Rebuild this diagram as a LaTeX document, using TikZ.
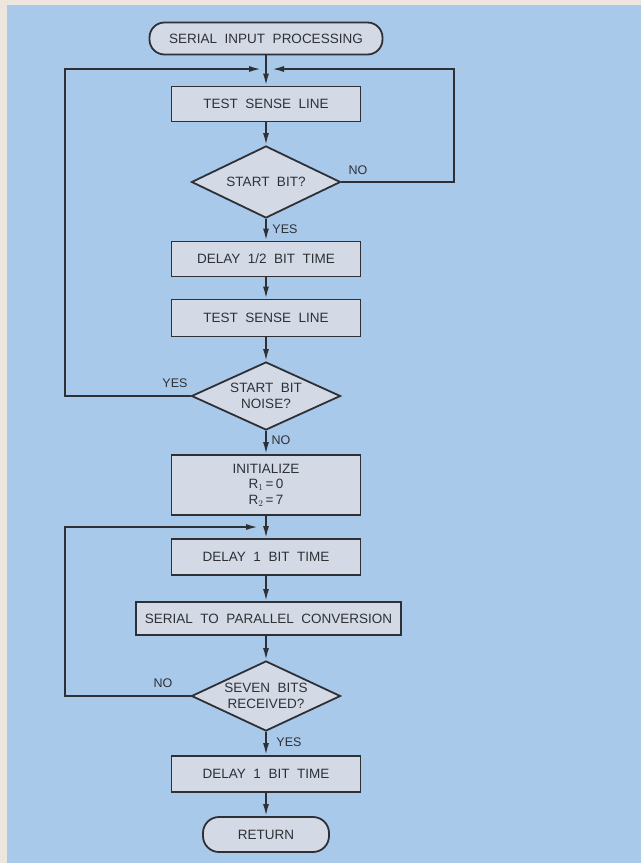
\documentclass[tikz,border=0pt]{standalone}
\usepackage{fontspec}
\setmainfont{Liberation Sans}
\usetikzlibrary{shapes.geometric,arrows.meta}
\definecolor{bg}{HTML}{A9C9EB}
\definecolor{margin}{HTML}{EDE6DC}
\definecolor{boxfill}{HTML}{D3DAE6}
\definecolor{ink}{HTML}{2E3036}
\begin{document}
\begin{tikzpicture}[x=1pt,y=-1pt,
  every node/.style={text=ink, font=\fontsize{13.5}{15.5}\selectfont},
  proc/.style={draw=ink, line width=1.8pt, fill=boxfill, rectangle, inner sep=0pt, minimum height=35pt, minimum width=189pt, align=center},
  term/.style={draw=ink, line width=1.8pt, fill=boxfill, rectangle, rounded corners=15pt, inner sep=0pt, minimum height=32pt, align=center},
  decision/.style={draw=ink, line width=1.8pt, fill=boxfill, diamond, aspect=2.1, inner sep=0pt, minimum width=149pt, minimum height=70pt, align=center},
  lbl/.style={font=\fontsize{12.5}{14}\selectfont, inner sep=0pt},
  arr/.style={draw=ink, line width=1.8pt, -{Latex[length=12pt,width=6pt]}}
]
\useasboundingbox (0,0) rectangle (641,863);
\fill[margin] (0,0) rectangle (641,863);
\fill[bg] (7,5) rectangle (641,863);

\node[term, minimum width=233pt] (start) at (266,38.5) {SERIAL\ \ INPUT\ \ PROCESSING};
\node[proc] (tsl1) at (266,104) {TEST\ \ SENSE\ \ LINE};
\node[decision, minimum height=72pt] (d1) at (266,182) {START\ \ BIT?};
\node[proc] (dh) at (266,259) {DELAY\ \ 1/2\ \ BIT\ \ TIME};
\node[proc, minimum height=37pt] (tsl2) at (266,318) {TEST\ \ SENSE\ \ LINE};
\node[decision, minimum height=68pt] (d2) at (266,396) {START\ \ BIT\\NOISE?};
\node[proc, minimum height=60pt] (init) at (266,485) {INITIALIZE\\R$_1$\,=\,0\\R$_2$\,=\,7};
\node[proc, minimum height=36pt] (dl1) at (266,557) {DELAY\ \ 1\ \ BIT\ \ TIME};
\node[proc, minimum width=265pt, minimum height=33pt] (s2p) at (268.5,618.5) {SERIAL\ \ TO\ \ PARALLEL\ \ CONVERSION};
\node[decision, minimum height=70pt] (d3) at (266,696) {SEVEN\ \ BITS\\RECEIVED?};
\node[proc, minimum height=36pt] (dl2) at (266,774) {DELAY\ \ 1\ \ BIT\ \ TIME};
\node[term, minimum width=126pt, minimum height=35pt, rounded corners=16pt] (ret) at (266,834.5) {RETURN};

\node[lbl] (no1) at (358,170) {NO};
\node[lbl] (yes1) at (285,229) {YES};
\node[lbl] (yes2) at (175,383) {YES};
\node[lbl] (no2) at (281,440) {NO};
\node[lbl] (no3) at (163,683) {NO};
\node[lbl] (yes3) at (289,742) {YES};

\coordinate (lc) at (65,69);
\coordinate (rc) at (454,69);
\coordinate (jl) at (261,69);
\coordinate (jr) at (272,69);
\coordinate (lc2) at (65,527);
\coordinate (jl2) at (258,527);

\draw[arr] (start) -- (tsl1);
\draw[arr] (tsl1) -- (d1);
\draw[arr] (d1) -- (dh);
\draw[arr] (dh) -- (tsl2);
\draw[arr] (tsl2) -- (d2);
\draw[arr] (d2) -- (init);
\draw[arr] (init) -- (dl1);
\draw[arr] (dl1) -- (s2p.north -| dl1.south);
\draw[arr] (s2p.south -| d3.north) -- (d3);
\draw[arr] (d3) -- (dl2);
\draw[arr] (dl2) -- (ret);

\draw[arr] (d2.west) -| (lc) -- (jl);
\draw[arr] (d1.east) -| (rc) -- (jr);
\draw[arr] (d3.west) -| (lc2) -- (jl2);
\end{tikzpicture}
\end{document}
